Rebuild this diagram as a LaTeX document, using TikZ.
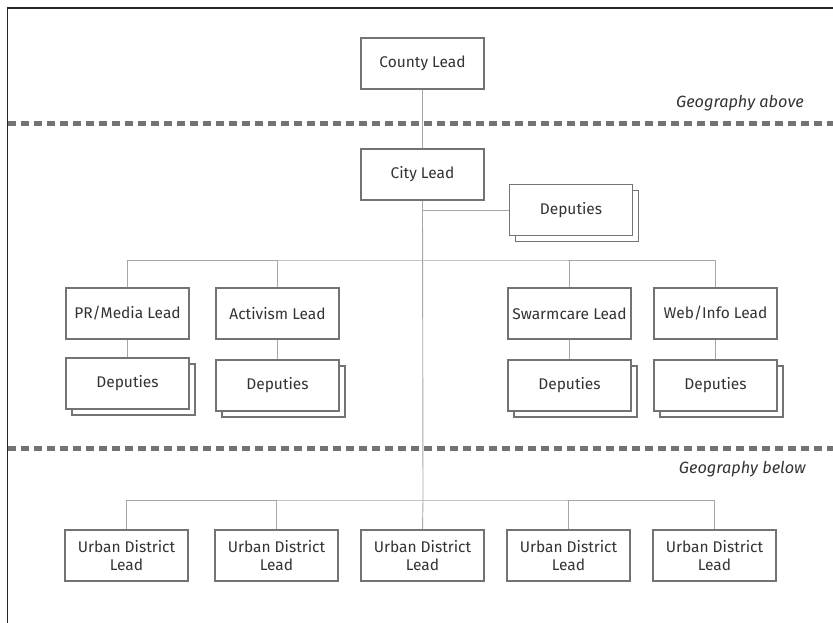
\documentclass[tikz,border=0pt]{standalone}
\usepackage{fontspec}
\setmainfont{Fira Sans}
\begin{document}
\begin{tikzpicture}[x=1pt,y=-1pt,
  box/.style={draw=black!55,line width=1.6pt,fill=white,minimum width=123pt,minimum height=51pt,inner sep=0pt,align=center,text=black!80,font=\fontsize{15.5}{17.5}\selectfont},
  conn/.style={draw=black!35,line width=0.9pt},
  sep/.style={draw=black!55,line width=5pt,dash pattern=on 8pt off 5pt},
  geo/.style={font=\fontsize{16.3}{18}\selectfont\itshape,text=black!80,anchor=east,inner sep=0pt},
  frame/.style={draw=black!85,line width=1.2pt}]
\useasboundingbox (0,0) rectangle (833,623);
\draw[frame] (7.5,623) -- (7.5,8) -- (833,8);
% separators
\draw[sep] (8,124) -- (833,124);
\draw[sep] (8,448) -- (833,448);
\node[geo] (geoA) at (804,103) {Geography above};
\node[geo] (geoB) at (806,469) {Geography below};
% leads
\node[box] (county) at (422.5,63.5) {County Lead};
\node[box] (city) at (422.5,174.5) {City Lead};
% deputies city
\node[box] (cdepS) at (577,216) {};
\node[box] (cdep) at (571,210) {Deputies};
\node[box] (pr) at (127.5,313.5) {PR/Media Lead};
\node[box] (act) at (277.5,313.5) {Activism Lead};
\node[box] (swarm) at (569.5,313.5) {Swarmcare Lead};
\node[box] (web) at (715.5,313.5) {Web/Info Lead};
\foreach \n/\x/\y in {prd/127.5/383.5, actd/277.5/385.5, swarmd/569.5/385.5, webd/715.5/385.5}{
  \node[box] (\n S) at (\x+6,\y+6) {};
  \node[box] (\n) at (\x,\y) {Deputies};
}
\foreach \n/\x in {u1/126.5, u2/276.5, u3/422.5, u4/568.5, u5/714.5}{
  \node[box] (\n) at (\x,555.5) {Urban District\\Lead};
}
% connectors
\coordinate (bar1) at (423,260);
\coordinate (bar2) at (423,500);
\coordinate (cj) at (423,210);
\draw[conn] (county.south) -- (city.north);
\draw[conn] (city.south) -- (bar2);
\draw[conn] (cj) -- (cdep.west);
\draw[conn] (pr.north) |- (bar1) -| (web.north);
\draw[conn] (act.north) -- (act.north |- bar1);
\draw[conn] (swarm.north) -- (swarm.north |- bar1);
\draw[conn] (u1.north) |- (bar2) -| (u5.north);
\draw[conn] (u2.north) -- (u2.north |- bar2);
\draw[conn] (u4.north) -- (u4.north |- bar2);
\draw[conn] (bar2) -- (u3.north);
\draw[conn] (pr.south) -- (prd.north);
\draw[conn] (act.south) -- (actd.north);
\draw[conn] (swarm.south) -- (swarmd.north);
\draw[conn] (web.south) -- (webd.north);
\end{tikzpicture}
\end{document}
